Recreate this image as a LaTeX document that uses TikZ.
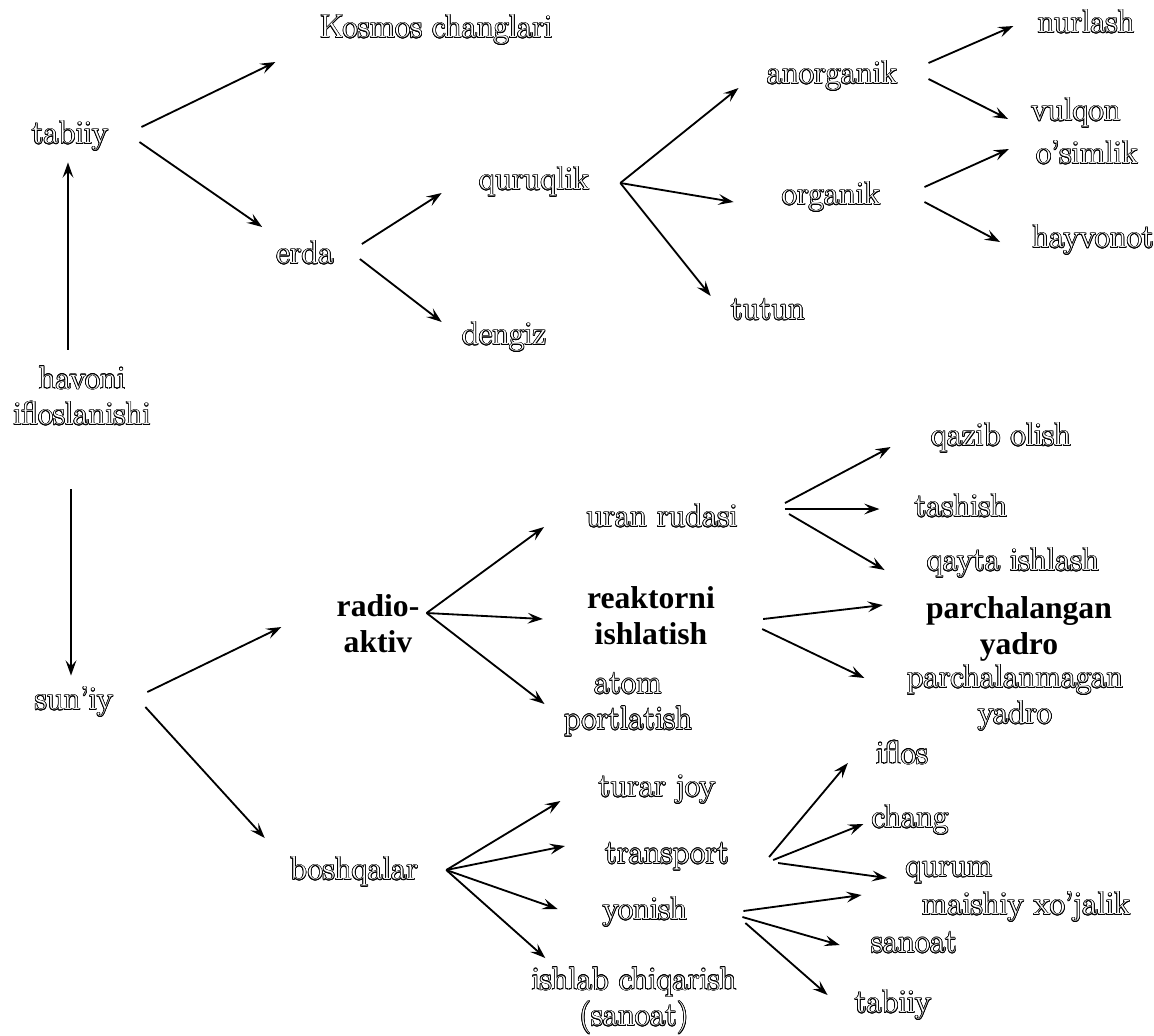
\documentclass[tikz,border=0pt]{standalone}
\usepackage{fontspec}
\newfontfamily\timesfont{Liberation Serif}
\usepackage[copies]{contour}
\usetikzlibrary{arrows.meta}
\contourlength{0.5pt}
\contournumber{16}
\newcommand{\hollow}[1]{\contour{black}{#1}}

\begin{document}
\begin{tikzpicture}[x=0.025cm,y=-0.025cm,>={Stealth[length=3.8mm,width=2.7mm,inset=1.5mm]}]
	\tikzstyle{word} = [text=white,inner sep=0pt,align=center,font=\fontsize{23.5}{25.5}\selectfont]
	\tikzstyle{bword} = [text=black,inner sep=0pt,align=center,font=\fontsize{22.5}{25.5}\selectfont\timesfont\bfseries]
	\tikzstyle{arr} = [->,line width=1.3pt]
	
		\useasboundingbox (0,0) rectangle (1154,1035);
		
		% tabiiy
		\node[word] (hav) at (82,396){\hollow{havoni}\\\hollow{ifloslanishi}};
		\node[word] (tab) at (70,136){\hollow{tabiiy}};
		\node[word] (kos) at (436,30){\hollow{Kosmos changlari}};
		\node[word] (erda) at (305,253){\hollow{erda}};
		\node[word] (qur) at (534,182){\hollow{quruqlik}};
		\node[word] (den) at (504,337){\hollow{dengiz}};
		\node[word] (anorg) at (832,76){\hollow{anorganik}};
		\node[word] (org) at (831,197){\hollow{organik}};
		\node[word] (tutun) at (768,310){\hollow{tutun}};
		\node[word] (nurl) at (1086,22){\hollow{nurlash}};
		\node[word] (vulq) at (1076,113){\hollow{vulqon}};
		\node[word] (osim) at (1087,153){\hollow{o’simlik}};
		\node[word] (hayv) at (1093,240){\hollow{hayvonot}};
		
		% sun'iy
		\node[word] (suniy) at (74,702){\hollow{sun’iy}};
		\node[bword] (rad) at (378,624){radio-\\aktiv};
		\node[word] (uran) at (662,516){\hollow{uran rudasi}};
		\node[bword] (reak) at (651,616){reaktorni\\ishlatish};
		\node[word] (atom) at (628,705){\hollow{atom}\\\hollow{portlatish}};
		\node[word] (qaz) at (1001,438){\hollow{qazib olish}};
		\node[word] (tash) at (961,506){\hollow{tashish}};
		\node[word] (qayta) at (1013,563){\hollow{qayta ishlash}};
		\node[bword] (parch) at (1019,629){parchalangan\\yadro};
		\node[word] (parchm) at (1015,698){\hollow{parchalanmagan}\\\hollow{yadro}};
		\node[word] (bosh) at (354,872){\hollow{boshqalar}};
		\node[word] (turar) at (657,790){\hollow{turar joy}};
		\node[word] (trans) at (667,857){\hollow{transport}};
		\node[word] (yonish) at (645,912){\hollow{yonish}};
		\node[word] (ishlab) at (634,1001){\hollow{ishlab chiqarish}\\\hollow{(sanoat)}};
		\node[word] (iflos) at (902,753){\hollow{iflos}};
		\node[word] (chang) at (910,820){\hollow{chang}};
		\node[word] (qurum) at (949,873){\hollow{qurum}};
		\node[word] (maish) at (1026,907){\hollow{maishiy xo’jalik}};
		\node[word] (sanoat) at (914,943){\hollow{sanoat}};
		\node[word] (tabiiy) at (893,1005){\hollow{tabiiy}};
		
		\draw[arr]([shift={(-14,-16)}]hav.north) -- ([shift={(-2,11)}]tab.south);
		\draw[arr]([shift={(-11,63)}]hav.south) -- ([shift={(-3,-11)}]suniy.north);
		\draw[arr]([shift={(33,-9)}]tab.east) -- ([shift={(-44,32)}]kos.west);
		\draw[arr]([shift={(31,6)}]tab.east) -- ([shift={(-14,-26)}]erda.west);
		\draw[arr]([shift={(28,-9)}]erda.east) -- ([shift={(-37,11)}]qur.west);
		\draw[arr]([shift={(26,6)}]erda.east) -- ([shift={(-20,-15)}]den.west);
		\draw[arr]([shift={(31,1)}]qur.east) -- ([shift={(-28,12)}]anorg.west);
		\draw[arr]([shift={(31,1)}]qur.east) -- ([shift={(-48,5)}]org.west);
		\draw[arr]([shift={(31,1)}]qur.east) -- ([shift={(-20,-14)}]tutun.west);
		\draw[arr]([shift={(31,-13)}]anorg.east) -- ([shift={(-24,4)}]nurl.west);
		\draw[arr]([shift={(31,3)}]anorg.east) -- ([shift={(-23,6)}]vulq.west);
		\draw[arr]([shift={(44,-10)}]org.east) -- ([shift={(-27,-4)}]osim.west);
		\draw[arr]([shift={(44,5)}]org.east) -- ([shift={(-32,2)}]hayv.west);
		
		\draw[arr]([shift={(34,-10)}]suniy.east) -- ([shift={(-55,3)}]rad.west);
		\draw[arr]([shift={(32,5)}]suniy.east) -- ([shift={(-25,-34)}]bosh.west);
		\draw[arr]([shift={(7,-11)}]rad.east) -- ([shift={(-42,11)}]uran.west);
		\draw[arr]([shift={(7,-11)}]rad.east) -- ([shift={(-44,3)}]reak.west);
		\draw[arr]([shift={(7,-11)}]rad.east) -- ([shift={(-19,-1)}]atom.west);
		\draw[arr]([shift={(47,-13)}]uran.east) -- ([shift={(-40,9)}]qaz.west);
		\draw[arr]([shift={(47,-7)}]uran.east) -- ([shift={(-35,3)}]tash.west);
		\draw[arr]([shift={(51,-2)}]uran.east) -- ([shift={(-42,7)}]qayta.west);
		\draw[arr]([shift={(48,3)}]reak.east) -- ([shift={(-43,-24)}]parch.west);
		\draw[arr]([shift={(47,13)}]reak.east) -- ([shift={(-42,-20)}]parchm.west);
		\draw[arr]([shift={(28,-2)}]bosh.east) -- ([shift={(-38,11)}]turar.west);
		\draw[arr]([shift={(28,-2)}]bosh.east) -- ([shift={(-40,-11)}]trans.west);
		\draw[arr]([shift={(28,-2)}]bosh.east) -- ([shift={(-45,-3)}]yonish.west);
		\draw[arr]([shift={(28,-2)}]bosh.east) -- ([shift={(14,-43)}]ishlab.west);
		\draw[arr]([shift={(40,0)}]trans.east) -- ([shift={(-28,10)}]iflos.west);
		\draw[arr]([shift={(44,3)}]trans.east) -- ([shift={(-8,4)}]chang.west);
		\draw[arr]([shift={(49,6)}]trans.east) -- ([shift={(-18,5)}]qurum.west);
		\draw[arr]([shift={(56,-1)}]yonish.east) -- ([shift={(-60,-12)}]maish.west);
		\draw[arr]([shift={(55,5)}]yonish.east) -- ([shift={(-31,2)}]sanoat.west);
		\draw[arr]([shift={(58,11)}]yonish.east) -- ([shift={(-27,-10)}]tabiiy.west);
\end{tikzpicture}
\end{document}
